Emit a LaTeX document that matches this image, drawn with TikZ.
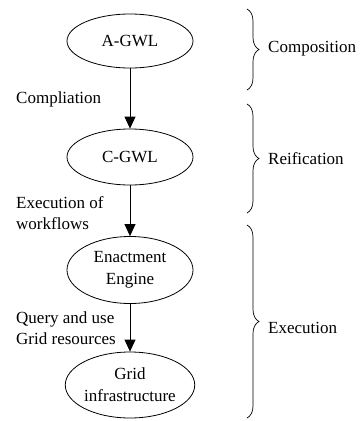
\documentclass[tikz,border=0pt]{standalone}
\usepackage{fontspec}
\setmainfont{Liberation Serif}
\usetikzlibrary{shapes.geometric,arrows.meta,decorations.pathreplacing}
\tikzset{
  stage/.style={draw, ellipse, line width=0.8pt, minimum width=126pt, inner sep=0pt, align=center, font=\fontsize{17}{22}\selectfont},
  flow/.style={draw, line width=0.8pt, -{Triangle[length=12pt,width=11pt]}},
  elabel/.style={anchor=west, align=left, inner sep=0pt, font=\fontsize{17}{21}\selectfont},
  phase/.style={anchor=west, inner sep=0pt, font=\fontsize{17}{21}\selectfont},
  brc/.style={draw, line width=0.7pt, decorate, decoration={brace, amplitude=12pt}}
}
\begin{document}
\begin{tikzpicture}[x=1pt,y=-1pt]
\useasboundingbox (0,0) rectangle (362,421);
\node[stage, minimum height=54pt] (a) at (130,41) {A-GWL};
\node[stage, minimum height=56pt] (c) at (130,157) {C-GWL};
\node[stage, minimum height=67pt] (e) at (130,270) {Enactment\\Engine};
\node[stage, minimum height=66pt] (g) at (130,385) {Grid\\infrastructure};
\draw[flow] (a) -- (c);
\draw[flow] (c) -- (e);
\draw[flow] (e) -- (g);
\node[elabel] (l1) at (16,99) {Compliation};
\node[elabel] (l2) at (16,213) {Execution of\\workflows};
\node[elabel] (l3) at (16,328) {Query and use\\Grid resources};
\coordinate (b1t) at (247,9);
\coordinate (b1b) at (247,90);
\coordinate (b2t) at (247,104);
\coordinate (b2b) at (247,213);
\coordinate (b3t) at (247,225);
\coordinate (b3b) at (247,418);
\draw[brc] (b1t) -- (b1b);
\draw[brc] (b2t) -- (b2b);
\draw[brc] (b3t) -- (b3b);
\node[phase] (p1) at (268,49) {Composition};
\node[phase] (p2) at (268,159) {Reification};
\node[phase] (p3) at (268,328) {Execution};
\end{tikzpicture}
\end{document}
